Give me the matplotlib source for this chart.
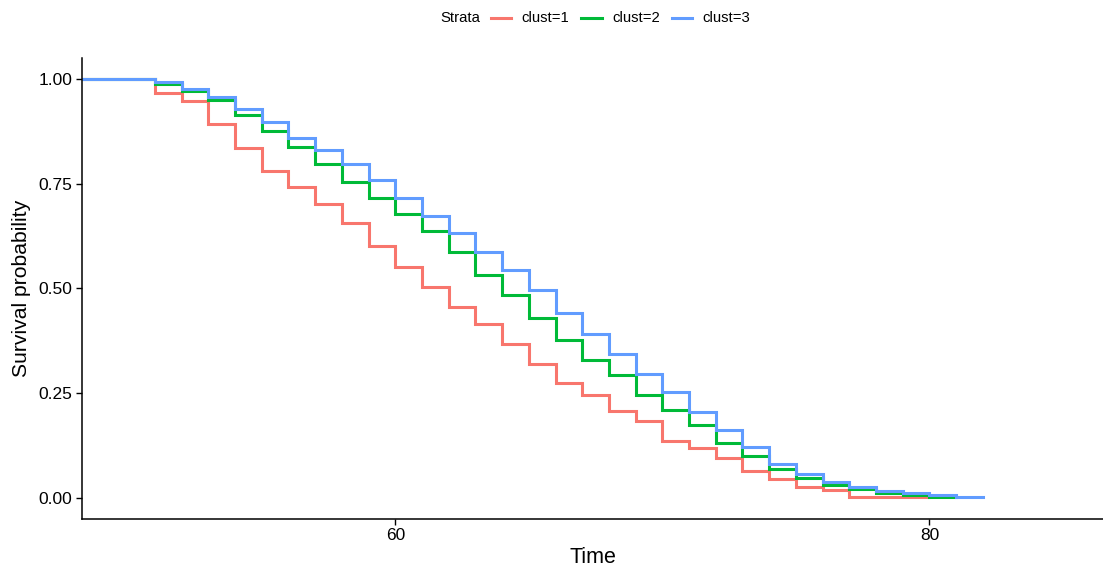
import matplotlib
matplotlib.use("Agg")
import matplotlib.pyplot as plt
from matplotlib.lines import Line2D

plt.rcParams['font.family'] = ['Liberation Sans', 'DejaVu Sans']

strata = ["clust=1", "clust=2", "clust=3"]
colors = ["#F8766D", "#00BA38", "#619CFF"]

start_time = 48.27
step_times = list(range(51, 83))  # event times 51..82

surv_clust1 = [0.967, 0.947, 0.893, 0.835, 0.781, 0.743, 0.702, 0.655, 0.601, 0.552,
               0.504, 0.455, 0.415, 0.366, 0.319, 0.275, 0.245, 0.208, 0.184, 0.136,
               0.118, 0.094, 0.064, 0.045, 0.025, 0.018, 0.002, 0.002, 0.002, 0.002]
end_clust1 = 80
surv_clust2 = [0.987, 0.972, 0.950, 0.915, 0.876, 0.837, 0.796, 0.753, 0.716, 0.678,
               0.636, 0.586, 0.533, 0.483, 0.429, 0.377, 0.330, 0.292, 0.245, 0.209,
               0.174, 0.130, 0.100, 0.069, 0.047, 0.030, 0.021, 0.011, 0.007, 0.002]
end_clust2 = 81
surv_clust3 = [0.992, 0.977, 0.958, 0.929, 0.898, 0.859, 0.830, 0.796, 0.760, 0.715,
               0.673, 0.633, 0.588, 0.545, 0.497, 0.441, 0.391, 0.342, 0.296, 0.252,
               0.204, 0.161, 0.122, 0.080, 0.057, 0.038, 0.025, 0.017, 0.011, 0.006,
               0.001]
end_clust3 = 82

series = [(surv_clust1, end_clust1), (surv_clust2, end_clust2), (surv_clust3, end_clust3)]

W, H = 1103, 570
fig = plt.figure(figsize=(W / 100, H / 100), dpi=100)
ax = fig.add_axes([82 / W, 1 - 518.6 / H, (W - 82) / W, (518.6 - 58.1) / H])

for (surv, tend), col in zip(series, colors):
    t = [start_time] + [tt for tt in step_times if tt < tend]
    s = [1.0] + list(surv[:len(t) - 1])
    t = t + [tend]
    s = s + [s[-1]]
    ax.step(t, s, where='post', color=col, lw=2.2, solid_joinstyle='miter')

ax.set_xlim(48.27, 86.5)
ax.set_ylim(-0.05, 1.05)
ax.set_xticks([60, 80])
ax.set_yticks([0, 0.25, 0.5, 0.75, 1.0])
ax.set_yticklabels(["0.00", "0.25", "0.50", "0.75", "1.00"])
for s in ["top", "right"]:
    ax.spines[s].set_visible(False)
for s in ["left", "bottom"]:
    ax.spines[s].set_linewidth(1.1)
    ax.spines[s].set_color("black")
ax.tick_params(axis='both', length=4, width=1, colors='black', labelsize=12.5, pad=3)
ax.set_xlabel("Time", fontsize=15.5, labelpad=3)
ax.set_ylabel("Survival probability", fontsize=15.2, labelpad=5)

# legend on top
ly = 1 - 18 / H
fig.text(440.5 / W, ly, "Strata", fontsize=10.7, va='center', ha='left')
items = [(490.5, 521.5), (581, 612), (671.5, 702.5)]
for (lx, tx), col, lab in zip(items, colors, strata):
    fig.add_artist(Line2D([lx / W, (lx + 20.5) / W], [ly, ly], color=col, lw=2.2,
                         transform=fig.transFigure))
    fig.text(tx / W, ly, lab, fontsize=10.7, va='center', ha='left')

fig.savefig("out.png", dpi=100)
